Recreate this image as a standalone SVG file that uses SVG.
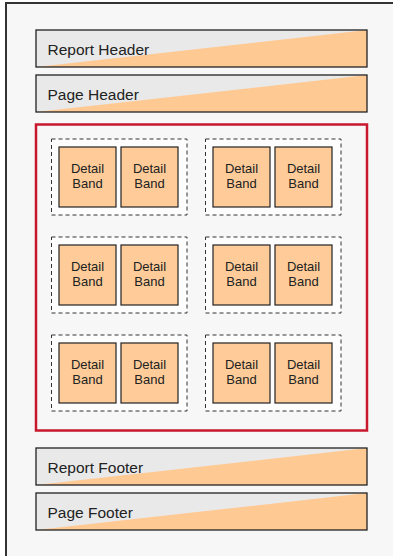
<svg xmlns="http://www.w3.org/2000/svg" width="393" height="556" viewBox="0 0 393 556">
<style>
.band{stroke:#222;stroke-width:1.3}
.bg{fill:#e9e9e9}
.tri{fill:#ffc994}
.lbl{font-family:"Liberation Sans",Arial,sans-serif;font-size:15.5px;fill:#222}
.grp{fill:#fdfdfd;stroke:#333;stroke-width:1;stroke-dasharray:4,3}
.db{fill:#ffcc99;stroke:#222;stroke-width:1.2}
.dt{font-family:"Liberation Sans",Arial,sans-serif;font-size:13px;fill:#222;text-anchor:middle}
</style>
<rect x="0" y="0" width="393" height="556" fill="#ffffff"/>
<rect x="6" y="3" width="400" height="570" fill="#f7f7f7" stroke="#333" stroke-width="2"/>
<g id="report-header">
<rect x="36" y="30" width="331" height="37" class="bg"/>
<polygon points="36,67 367,30 367,67" class="tri"/>
<rect x="36" y="30" width="331" height="37" fill="none" class="band"/>
<text x="47.5" y="55" class="lbl">Report Header</text>
</g>
<g id="page-header">
<rect x="36" y="75" width="331" height="37" class="bg"/>
<polygon points="36,112 367,75 367,112" class="tri"/>
<rect x="36" y="75" width="331" height="37" fill="none" class="band"/>
<text x="47.5" y="100" class="lbl">Page Header</text>
</g>
<g id="detail-area">
<rect x="36" y="124.5" width="331" height="306" fill="none" stroke="#c8182e" stroke-width="2.5"/>
</g>
<defs>
<g id="pair">
<rect x="0" y="0" width="135.5" height="76" class="grp"/>
<rect x="7.5" y="8" width="57" height="60" class="db"/>
<rect x="69.5" y="8" width="57" height="60" class="db"/>
<text x="36" y="33.5" class="dt">Detail</text>
<text x="36" y="49" class="dt">Band</text>
<text x="98" y="33.5" class="dt">Detail</text>
<text x="98" y="49" class="dt">Band</text>
</g>
</defs>
<g id="group-1"><use href="#pair" x="51.5" y="139"/></g>
<g id="group-2"><use href="#pair" x="205.5" y="139"/></g>
<g id="group-3"><use href="#pair" x="51.5" y="237"/></g>
<g id="group-4"><use href="#pair" x="205.5" y="237"/></g>
<g id="group-5"><use href="#pair" x="51.5" y="335"/></g>
<g id="group-6"><use href="#pair" x="205.5" y="335"/></g>
<g id="report-footer">
<rect x="36" y="448" width="331" height="37" class="bg"/>
<polygon points="36,485 367,448 367,485" class="tri"/>
<rect x="36" y="448" width="331" height="37" fill="none" class="band"/>
<text x="47.5" y="472.5" class="lbl">Report Footer</text>
</g>
<g id="page-footer">
<rect x="36" y="493" width="331" height="37" class="bg"/>
<polygon points="36,530 367,493 367,530" class="tri"/>
<rect x="36" y="493" width="331" height="37" fill="none" class="band"/>
<text x="47.5" y="518" class="lbl">Page Footer</text>
</g>
<g id="connectors"></g>
</svg>
